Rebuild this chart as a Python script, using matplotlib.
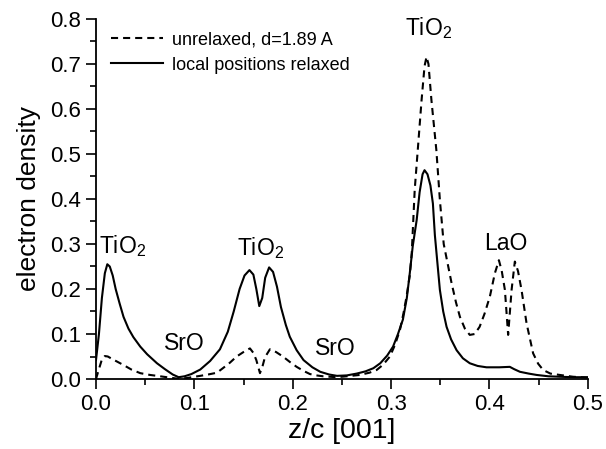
import matplotlib
matplotlib.use("Agg")
import matplotlib.pyplot as plt
from matplotlib.ticker import MultipleLocator, FormatStrFormatter

plt.rcParams['font.family'] = ['Liberation Sans', 'DejaVu Sans']
plt.rcParams['mathtext.fontset'] = 'custom'
plt.rcParams['mathtext.rm'] = 'Liberation Sans'
plt.rcParams['mathtext.it'] = 'Liberation Sans:italic'

# Planar-averaged electron density along [001]
z_relaxed = [0.000, 0.003, 0.006, 0.009, 0.0115, 0.014, 0.017, 0.020, 0.024, 0.028,
             0.033, 0.038, 0.045, 0.052, 0.062, 0.070, 0.078, 0.084, 0.090, 0.097,
             0.106, 0.116, 0.126, 0.134, 0.140, 0.146, 0.151, 0.156, 0.160, 0.163,
             0.166, 0.169, 0.172, 0.176, 0.180, 0.184, 0.188, 0.193, 0.197, 0.204,
             0.211, 0.220, 0.228, 0.237, 0.245, 0.255, 0.265, 0.274, 0.282, 0.289,
             0.296, 0.302, 0.307, 0.312, 0.316, 0.319, 0.322, 0.326, 0.329, 0.332,
             0.334, 0.337, 0.340, 0.3425, 0.3445, 0.347, 0.3496, 0.353, 0.3564, 0.361,
             0.3666, 0.373, 0.380, 0.388, 0.397, 0.410, 0.4207, 0.425, 0.431, 0.440,
             0.448, 0.460, 0.4715, 0.485, 0.500]
rho_relaxed = [0.042, 0.100, 0.180, 0.235, 0.255, 0.250, 0.230, 0.200, 0.168, 0.138,
               0.112, 0.093, 0.072, 0.055, 0.035, 0.022, 0.010, 0.004, 0.006, 0.011,
               0.021, 0.040, 0.066, 0.105, 0.150, 0.200, 0.230, 0.242, 0.232, 0.200,
               0.162, 0.180, 0.225, 0.248, 0.238, 0.205, 0.160, 0.120, 0.094, 0.064,
               0.042, 0.026, 0.016, 0.010, 0.007, 0.008, 0.012, 0.017, 0.024, 0.035,
               0.052, 0.072, 0.100, 0.132, 0.180, 0.235, 0.295, 0.353, 0.415, 0.455,
               0.464, 0.455, 0.430, 0.390, 0.320, 0.260, 0.198, 0.150, 0.116, 0.088,
               0.064, 0.046, 0.035, 0.029, 0.026, 0.026, 0.027, 0.022, 0.016, 0.012,
               0.009, 0.006, 0.005, 0.004, 0.004]

z_unrelaxed = [0.000, 0.003, 0.0058, 0.009, 0.012, 0.016, 0.022, 0.028, 0.036, 0.045,
               0.055, 0.062, 0.072, 0.082, 0.092, 0.100, 0.106, 0.114, 0.123, 0.129,
               0.136, 0.143, 0.150, 0.1565, 0.160, 0.163, 0.1667, 0.1695, 0.1717, 0.1768,
               0.183, 0.190, 0.197, 0.204, 0.211, 0.2175, 0.224, 0.231, 0.2446, 0.255,
               0.268, 0.278, 0.2853, 0.292, 0.2988, 0.304, 0.309, 0.3125, 0.3157, 0.319,
               0.321, 0.324, 0.3275, 0.331, 0.334, 0.336, 0.338, 0.341, 0.346, 0.3496,
               0.3535, 0.3615, 0.366, 0.370, 0.375, 0.380, 0.385, 0.390, 0.395, 0.4004,
               0.4055, 0.4096, 0.4125, 0.4157, 0.419, 0.4225, 0.4258, 0.429, 0.4326, 0.4377,
               0.4444, 0.4495, 0.4546, 0.462, 0.4715, 0.485, 0.500]
rho_unrelaxed = [0.000, 0.022, 0.042, 0.051, 0.050, 0.045, 0.038, 0.031, 0.021, 0.013,
                 0.009, 0.007, 0.004, 0.001, 0.002, 0.005, 0.007, 0.010, 0.014, 0.024,
                 0.036, 0.050, 0.060, 0.068, 0.058, 0.042, 0.013, 0.030, 0.048, 0.066,
                 0.060, 0.050, 0.038, 0.027, 0.018, 0.011, 0.008, 0.006, 0.004, 0.006,
                 0.009, 0.014, 0.020, 0.032, 0.050, 0.076, 0.109, 0.145, 0.183, 0.230,
                 0.280, 0.420, 0.520, 0.620, 0.695, 0.716, 0.700, 0.620, 0.509, 0.398,
                 0.300, 0.213, 0.170, 0.138, 0.112, 0.098, 0.100, 0.116, 0.145, 0.183,
                 0.235, 0.264, 0.240, 0.198, 0.098, 0.198, 0.261, 0.240, 0.198, 0.124,
                 0.057, 0.034, 0.020, 0.012, 0.009, 0.005, 0.003]

# Layer labels and where they sit
layer_names = [r'TiO$_\mathrm{2}$', 'SrO', r'TiO$_\mathrm{2}$', 'SrO', r'TiO$_\mathrm{2}$', 'LaO']
layer_z = [0.027, 0.0894, 0.167, 0.243, 0.338, 0.417]
layer_rho = [0.295, 0.078, 0.290, 0.067, 0.780, 0.300]

fig = plt.figure(figsize=(6.06, 4.49), dpi=100)
ax = fig.add_axes([0.1584, 0.1559, 0.8116, 0.8018])

line_u, = ax.plot(z_unrelaxed, rho_unrelaxed, color='black', lw=1.5,
                  label='unrelaxed, d=1.89 A')
line_u.set_dashes((3.4, 2.4))
ax.plot(z_relaxed, rho_relaxed, color='black', lw=1.5,
        label='local positions relaxed')

for name, zx, ry in zip(layer_names, layer_z, layer_rho):
    ax.text(zx, ry, name, fontsize=16.5, ha='center', va='center')

ax.set_xlim(0, 0.5)
ax.set_ylim(0, 0.8)
ax.xaxis.set_major_locator(MultipleLocator(0.1))
ax.xaxis.set_minor_locator(MultipleLocator(0.05))
ax.yaxis.set_major_locator(MultipleLocator(0.1))
ax.yaxis.set_minor_locator(MultipleLocator(0.05))
ax.xaxis.set_major_formatter(FormatStrFormatter('%.1f'))
ax.yaxis.set_major_formatter(FormatStrFormatter('%.1f'))
ax.tick_params(which='major', direction='out', length=7, width=1.2, labelsize=16, pad=4)
ax.tick_params(which='minor', direction='out', length=4, width=1.2)

for side in ('top', 'right'):
    ax.spines[side].set_visible(False)
for side in ('left', 'bottom'):
    ax.spines[side].set_linewidth(1.3)

ax.set_xlabel('z/c [001]', fontsize=20.5, labelpad=2)
ax.set_ylabel('electron density', fontsize=19, labelpad=6)

ax.legend(loc='upper left', bbox_to_anchor=(0.005, 1.0), frameon=False,
          fontsize=13, handlelength=2.9, handletextpad=0.5, labelspacing=0.45,
          borderaxespad=0.3)

fig.savefig('out.png', dpi=100)
